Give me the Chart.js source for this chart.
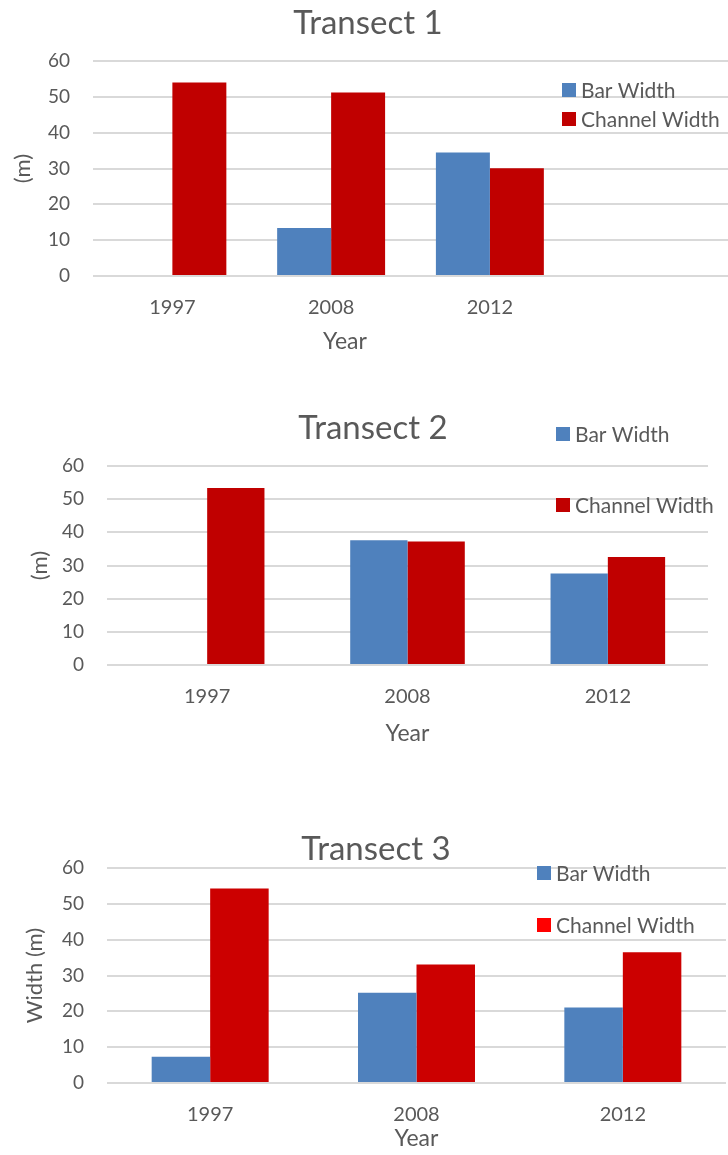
<!DOCTYPE html>
<html>
<head>
<meta charset="utf-8">
<script src="https://cdn.jsdelivr.net/npm/chart.js@4.4.1/dist/chart.umd.min.js"></script>
<style>
  body { margin: 0; background: #fff; width: 728px; height: 1155px; position: relative; overflow: hidden; }
  canvas { position: absolute; left: 0; }
</style>
</head>
<body>
<canvas id="transect1" width="728" height="356" style="top:0px"></canvas>
<canvas id="transect2" width="728" height="347" style="top:400px"></canvas>
<canvas id="transect3" width="728" height="332" style="top:820px"></canvas>
<script>
// Transect 1 (extra blank slot on the right)
const years1 = ['1997', '2008', '2012', ''];
const barWidth1 = [null, 13.4, 34.5, null];
const channelWidth1 = [54, 51.2, 30.1, null];

// Transect 2
const years2 = ['1997', '2008', '2012'];
const barWidth2 = [null, 37.6, 27.6];
const channelWidth2 = [53.4, 37.2, 32.6];

// Transect 3
const years3 = ['1997', '2008', '2012'];
const barWidth3 = [7.3, 25.2, 21.1];
const channelWidth3 = [54.3, 33.1, 36.5];

const X_TITLE = 'Year';
const TEXT = '#595959';
const GRID = '#d9d9d9';
const BLUE = '#4f81bd';
const FONT = 'Lato';

// Title, legend keys (and optionally the x title) drawn at fixed spots
const headerPlugin = {
    id: 'header',
    afterDraw(chart, args, opts) {
        const ctx = chart.ctx;
        ctx.save();
        ctx.fillStyle = TEXT;
        ctx.font = '33px ' + FONT;
        ctx.textAlign = 'center';
        ctx.textBaseline = 'middle';
        ctx.fillText(opts.title, opts.titleX, opts.titleY);
        if (opts.yearX) {
            ctx.font = '23px ' + FONT;
            ctx.fillText(X_TITLE, opts.yearX, opts.yearY);
        }
        ctx.font = '21px ' + FONT;
        ctx.textAlign = 'left';
        chart.data.datasets.forEach((ds, i) => {
            const y = opts.rows[i];
            ctx.fillStyle = ds.legendColor || ds.backgroundColor;
            ctx.fillRect(opts.keyX, y - 7, 14, 14);
            ctx.fillStyle = TEXT;
            ctx.fillText(ds.label, opts.keyX + 19, y + 1);
        });
        ctx.restore();
    }
};

function makeChart(id, labels, bars, channels, cfg) {
    return new Chart(document.getElementById(id), {
        type: 'bar',
        data: {
            labels: labels,
            datasets: [
                { label: 'Bar Width', data: bars, backgroundColor: BLUE },
                { label: 'Channel Width', data: channels, backgroundColor: cfg.red, legendColor: cfg.keyRed || cfg.red }
            ]
        },
        options: {
            responsive: false,
            animation: false,
            layout: { padding: { top: cfg.top, right: cfg.right, left: 0, bottom: 0 } },
            datasets: { bar: { barPercentage: 1, categoryPercentage: cfg.groupPct } },
            plugins: {
                legend: { display: false },
                title: { display: false },
                tooltip: { enabled: false },
                header: cfg.header
            },
            scales: {
                x: {
                    grid: { display: false, drawTicks: false },
                    border: { display: false },
                    ticks: { color: TEXT, font: { family: FONT, size: 20 }, padding: 20 },
                    title: {
                        display: !cfg.header.yearX, text: X_TITLE, color: TEXT,
                        font: { family: FONT, size: 23 }, padding: { top: 0, bottom: cfg.yearPad }
                    },
                    afterFit(s) { s.height = cfg.xHeight; }
                },
                y: {
                    min: 0,
                    max: 60,
                    ticks: { stepSize: 10, color: TEXT, font: { family: FONT, size: 19 }, padding: 23 },
                    grid: { color: GRID, lineWidth: 2, drawTicks: false },
                    border: { display: false },
                    title: {
                        display: true, text: cfg.yTitle, color: TEXT,
                        font: { family: FONT, size: 22 }, padding: { top: cfg.yTitlePad, bottom: 0 }
                    },
                    afterFit(s) { s.width = cfg.yWidth; }
                }
            }
        },
        plugins: [headerPlugin]
    });
}

makeChart('transect1', years1, barWidth1, channelWidth1, {
    red: '#c00000', top: 61, right: 0, groupPct: 0.68,
    xHeight: 80, yearPad: 0, yWidth: 93, yTitle: '(m)', yTitlePad: 10,
    header: { title: 'Transect 1', titleX: 368, titleY: 23, keyX: 562, rows: [90, 119], yearX: 345, yearY: 342 }
});

makeChart('transect2', years2, barWidth2, channelWidth2, {
    red: '#c00000', top: 66, right: 20, groupPct: 0.572,
    xHeight: 82, yearPad: 0, yWidth: 107, yTitle: '(m)', yTitlePad: 27,
    header: { title: 'Transect 2', titleX: 373, titleY: 28, keyX: 556, rows: [34, 105] }
});

makeChart('transect3', years3, barWidth3, channelWidth3, {
    red: '#cc0000', keyRed: '#ff0000', top: 48, right: 2, groupPct: 0.567,
    xHeight: 69, yearPad: 0, yWidth: 107, yTitle: 'Width (m)', yTitlePad: 22,
    header: { title: 'Transect 3', titleX: 376, titleY: 29, keyX: 537, rows: [53, 105] }
});
</script>
</body>
</html>
